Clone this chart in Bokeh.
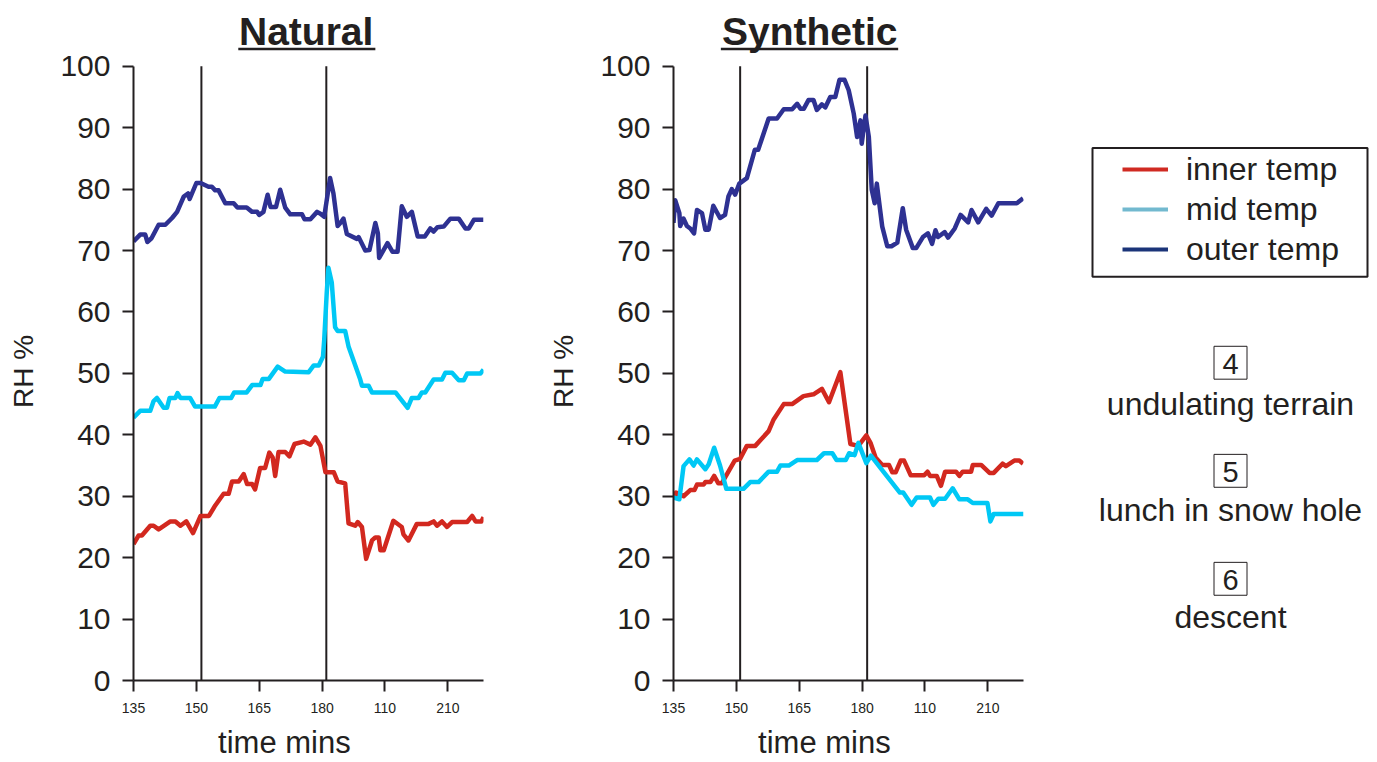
from math import pi
from bokeh.plotting import figure
from bokeh.models import Range1d, FixedTicker, Label, Legend, LegendItem, LinearAxis
from bokeh.layouts import row
from bokeh.embed import file_html
from bokeh.resources import INLINE
from bokeh.core.properties import value

# ---------------- data (time in minutes, RH %) ----------------
x_ticks = [135, 150, 165, 180, 195, 210]
x_tick_labels = ["135", "150", "165", "180", "110", "210"]
y_ticks = [0, 10, 20, 30, 40, 50, 60, 70, 80, 90, 100]
x_title = "time mins"
y_title = "RH %"

nat_events = [151.2, 181.0]
syn_events = [150.9, 181.2]

nat_outer_t = [135.0, 136.6, 137.8, 138.3, 139.3, 141.0, 142.6, 144.2, 145.4, 147.0,
               148.0, 148.4, 150.0, 151.0, 152.9, 153.7, 154.5, 155.3, 156.9, 158.9,
               159.8, 162.0, 163.3, 164.5, 165.0, 166.0, 167.0, 167.7, 169.0, 170.0,
               171.2, 172.4, 175.2, 175.8, 177.2, 178.8, 179.6, 180.5, 181.9, 182.7,
               183.7, 184.5, 185.1, 185.9, 188.3, 188.7, 190.3, 191.3, 192.7, 193.3,
               193.6, 195.6, 196.8, 198.0, 199.0, 200.2, 201.4, 202.8, 204.5, 205.8,
               206.6, 207.5, 209.0, 210.6, 212.6, 214.2, 215.0, 216.2, 218.5]
nat_outer_rh = [71.5, 72.6, 72.6, 71.4, 72.0, 74.2, 74.2, 75.3, 76.3, 78.8,
                79.3, 78.4, 81.0, 81.0, 80.4, 80.4, 79.8, 79.8, 77.7, 77.7,
                77.0, 77.0, 76.3, 76.3, 75.8, 76.3, 79.1, 77.1, 77.1, 79.9,
                77.0, 75.9, 75.9, 75.1, 75.1, 76.3, 76.0, 75.5, 81.8, 79.3,
                74.0, 74.6, 75.2, 72.7, 71.9, 72.2, 70.0, 70.1, 74.5, 72.8,
                68.8, 71.2, 69.8, 69.8, 77.2, 75.5, 76.3, 72.3, 72.3, 73.6,
                73.1, 73.8, 73.9, 75.2, 75.2, 73.6, 73.6, 75.0, 75.0]

nat_mid_t = [135.0, 136.6, 139.0, 139.8, 140.6, 142.2, 143.0, 143.6, 145.0, 145.5,
             146.2, 148.5, 149.7, 154.4, 155.5, 158.3, 159.0, 162.0, 163.3, 165.3,
             165.8, 167.3, 169.4, 171.2, 176.8, 178.0, 179.2, 180.2, 180.5, 181.1,
             181.5, 182.3, 183.1, 183.7, 185.5, 186.3, 189.1, 189.5, 191.1, 191.9,
             197.5, 200.4, 201.4, 203.0, 203.8, 204.6, 206.6, 208.6, 209.4, 211.0,
             212.6, 213.8, 214.6, 217.8, 218.5]
nat_mid_rh = [42.8, 43.9, 43.9, 45.5, 46.0, 44.4, 44.4, 46.0, 46.0, 46.8,
              46.0, 46.0, 44.6, 44.6, 46.0, 46.0, 46.9, 46.9, 48.1, 48.1,
              49.1, 49.1, 51.1, 50.3, 50.2, 51.3, 51.3, 52.7, 55.5, 63.1,
              67.2, 64.8, 57.5, 56.9, 56.9, 54.4, 49.0, 48.0, 48.0, 46.9,
              46.9, 44.4, 46.0, 46.0, 46.9, 46.9, 49.0, 49.0, 50.1, 50.1,
              48.9, 48.9, 50.0, 50.0, 50.6]

nat_inner_t = [135.0, 136.2, 137.0, 139.0, 139.8, 141.0, 143.8, 145.0, 146.2, 147.6,
               149.2, 151.0, 153.0, 154.5, 156.5, 157.7, 158.5, 160.1, 161.3, 162.1,
               163.3, 164.0, 165.2, 166.4, 167.4, 168.2, 168.8, 169.6, 171.2, 172.2,
               173.4, 175.6, 177.2, 178.4, 179.6, 180.8, 182.8, 183.7, 185.5, 186.3,
               187.9, 188.5, 189.5, 190.5, 191.9, 192.7, 193.5, 193.9, 194.7, 197.0,
               199.0, 199.4, 200.6, 202.6, 205.4, 206.6, 207.4, 208.6, 209.8, 211.0,
               214.6, 215.8, 216.6, 218.0, 218.5]
nat_inner_rh = [22.2, 23.6, 23.6, 25.2, 25.2, 24.6, 25.9, 25.9, 25.2, 25.9,
                24.0, 26.8, 26.8, 28.5, 30.4, 30.4, 32.4, 32.4, 33.6, 32.0,
                32.0, 31.1, 34.6, 34.6, 37.1, 36.3, 33.3, 37.2, 37.2, 36.5,
                38.5, 38.9, 38.4, 39.6, 38.2, 33.9, 33.9, 32.4, 32.1, 25.6,
                25.2, 25.8, 25.0, 19.8, 22.8, 23.3, 23.3, 21.2, 21.2, 26.0,
                25.0, 23.8, 22.8, 25.5, 25.5, 25.9, 25.2, 25.9, 25.0, 25.8,
                25.8, 26.8, 25.9, 25.9, 26.6]

syn_outer_t = [135.0, 135.4, 136.4, 136.6, 137.4, 138.2, 139.0, 139.9, 140.6, 141.8,
               142.6, 143.4, 144.5, 146.1, 147.3, 148.1, 148.9, 149.7, 150.7, 152.5,
               154.4, 155.2, 157.7, 159.7, 161.3, 163.3, 164.5, 165.3, 166.1, 167.2,
               168.4, 169.2, 170.4, 171.2, 172.4, 173.6, 174.6, 175.8, 176.8, 178.0,
               178.8, 179.6, 179.9, 180.8, 181.6, 182.3, 183.0, 183.5, 184.8, 186.0,
               187.0, 188.4, 189.7, 190.5, 192.1, 192.9, 194.5, 195.7, 196.7, 197.5,
               198.1, 199.7, 200.5, 202.1, 203.5, 205.3, 206.1, 207.7, 209.6, 210.9,
               212.5, 216.9, 218.4]
syn_outer_rh = [74.5, 78.2, 76.1, 74.0, 75.2, 74.0, 73.6, 72.8, 76.6, 76.1,
                73.4, 73.4, 77.3, 75.3, 75.8, 78.8, 80.0, 79.1, 80.9, 81.8,
                86.4, 86.4, 91.5, 91.5, 93.0, 93.0, 93.9, 93.1, 93.1, 94.5,
                94.5, 92.9, 93.8, 93.3, 95.0, 95.0, 97.8, 97.8, 96.1, 92.3,
                88.5, 91.2, 87.4, 92.0, 88.5, 79.9, 77.7, 80.9, 73.9, 70.7,
                70.7, 71.3, 76.9, 73.4, 70.4, 70.4, 72.2, 72.8, 71.1, 73.3,
                72.2, 73.0, 72.1, 73.6, 75.8, 74.6, 76.6, 74.6, 76.8, 75.7,
                77.7, 77.7, 78.5]

syn_mid_t = [135.0, 136.4, 137.4, 138.8, 139.8, 140.6, 142.6, 143.4, 144.7, 146.1,
             147.6, 151.7, 153.3, 155.3, 157.7, 159.7, 160.5, 162.5, 164.5, 169.2,
             170.9, 172.9, 173.9, 176.1, 176.9, 178.2, 179.1, 181.0, 182.1, 184.6,
             189.0, 189.8, 191.8, 193.0, 196.2, 197.0, 198.2, 199.8, 201.6, 203.2,
             205.2, 206.4, 209.9, 210.6, 211.4, 218.5]
syn_mid_rh = [29.8, 29.5, 34.9, 36.0, 35.0, 36.0, 34.4, 35.2, 37.9, 35.0,
              31.2, 31.2, 32.3, 32.3, 34.0, 34.0, 35.0, 35.0, 35.9, 35.9,
              37.0, 37.0, 35.9, 35.9, 37.0, 36.7, 38.7, 35.4, 36.6, 34.4,
              30.6, 30.6, 28.6, 29.8, 29.8, 28.6, 29.6, 29.6, 31.3, 29.5,
              29.5, 28.9, 28.9, 25.9, 27.1, 27.1]

syn_inner_t = [135.0, 135.6, 137.4, 139.0, 140.0, 140.6, 142.2, 142.6, 143.8, 144.7,
               145.7, 146.5, 149.6, 150.9, 152.5, 154.5, 157.7, 158.9, 161.3, 163.3,
               166.0, 168.4, 170.4, 172.1, 174.8, 177.2, 179.1, 181.0, 182.0, 183.2,
               184.8, 186.4, 187.2, 188.0, 189.2, 190.0, 191.6, 194.8, 195.6, 196.2,
               197.8, 198.8, 199.8, 202.4, 203.2, 204.0, 206.0, 206.4, 208.4, 210.4,
               211.4, 213.5, 214.3, 216.3, 217.5, 218.4]
syn_inner_rh = [29.5, 30.6, 30.0, 31.0, 31.0, 31.9, 31.9, 32.3, 32.3, 33.3,
                32.1, 32.1, 35.8, 36.1, 38.2, 38.2, 40.6, 42.5, 45.0, 45.0,
                46.3, 46.6, 47.5, 45.3, 50.2, 38.5, 38.2, 39.9, 38.7, 36.3,
                35.1, 35.1, 33.9, 33.9, 35.8, 35.8, 33.4, 33.4, 34.0, 33.3,
                33.3, 31.7, 34.0, 34.0, 33.3, 34.0, 34.0, 35.1, 35.1, 33.8,
                33.8, 35.3, 34.9, 35.8, 35.8, 35.3]

series_names = ["inner temp", "mid temp", "outer temp"]
line_colors = ["#d2281f", "#00c8f5", "#2e3192"]
legend_colors = ["#d02a22", "#72b9cf", "#1b3479"]

stages = ["4", "5", "6"]
stage_names = ["undulating terrain", "lunch in snow hole", "descent"]

FONT = "Liberation Sans"
INK = "#231f20"
H = 762
FRAME_H = 682
Y_TOP = FRAME_H / 6.16


def bare_figure(width):
    """A figure without axes whose data coordinates are canvas pixels (y measured up)."""
    f = figure(width=width, height=H, x_range=Range1d(0, width), y_range=Range1d(0, FRAME_H),
               output_backend="svg", toolbar_location=None, min_border_left=0,
               min_border_right=0, min_border_top=0, min_border_bottom=H - FRAME_H,
               x_axis_location=None, y_axis_location=None)
    f.outline_line_color = None
    f.xgrid.visible = False
    f.ygrid.visible = False
    return f


def y_title_fig(width, x):
    f = bare_figure(width)
    f.text(x=[x], y=[FRAME_H - 372], text=[y_title], angle=pi / 2, text_font=value(FONT),
           text_font_size="28px", text_align="center", text_baseline="middle", text_color=INK)
    return f


def make_panel(width, left, right, title, title_x, ul_x0, ul_x1, events, series):
    p = figure(width=width, height=H, x_range=Range1d(135, 218.5), y_range=Range1d(0, Y_TOP),
               output_backend="svg", toolbar_location=None,
               min_border_left=left, min_border_right=right, min_border_top=0,
               min_border_bottom=H - FRAME_H)
    p.outline_line_color = None
    p.grid.visible = False
    p.background_fill_color = "white"
    p.border_fill_color = "white"

    for ax in (p.xaxis[0], p.yaxis[0]):
        ax.axis_line_width = 2
        ax.axis_line_color = INK
        ax.major_tick_line_width = 2
        ax.major_tick_line_color = INK
        ax.major_tick_out = 11
        ax.major_tick_in = 0
        ax.minor_tick_out = 0
        ax.minor_tick_in = 0
        ax.major_label_text_font = FONT
        ax.major_label_text_color = INK

    p.yaxis.ticker = FixedTicker(ticks=y_ticks)
    p.yaxis.bounds = (0, 100)
    p.yaxis.major_label_text_font_size = "30px"
    p.yaxis.major_label_standoff = 12

    p.xaxis.ticker = FixedTicker(ticks=x_ticks)
    p.xaxis.major_label_overrides = {t: s for t, s in zip(x_ticks, x_tick_labels)}
    p.xaxis.major_label_text_font_size = "14px"
    p.xaxis.major_label_standoff = 11

    # x-axis title, carried as the single label of a line-less second axis
    p.add_layout(LinearAxis(ticker=FixedTicker(ticks=[171]), major_label_overrides={171: x_title},
                            axis_line_color=None, major_tick_out=0, major_tick_in=0,
                            minor_tick_out=0, minor_tick_in=0, major_tick_line_color=None,
                            minor_tick_line_color=None, major_label_standoff=9,
                            major_label_text_font=FONT, major_label_text_font_size="31px",
                            major_label_text_color=INK), "below")

    # event lines
    p.segment(x0=events, y0=[0] * len(events), x1=events, y1=[100] * len(events),
              line_color=INK, line_width=2)

    for (tt, rr), col in zip(series, line_colors):
        p.line(tt, rr, line_color=col, line_width=4.5, line_join="round")

    # title with underline
    p.add_layout(Label(x=title_x, y=105.6, text=title, text_font=FONT, text_font_size="39px",
                       text_font_style="bold", text_align="center", text_baseline="middle",
                       text_color=INK))
    p.segment(x0=[ul_x0], y0=[102.8], x1=[ul_x1], y1=[102.8], line_color=INK, line_width=2.5)
    return p


lab1 = y_title_fig(40, 23.3)
p1 = make_panel(504, 93, 61, "Natural", 176.2, 160.0, 192.7, nat_events,
                [(nat_inner_t, nat_inner_rh), (nat_mid_t, nat_mid_rh), (nat_outer_t, nat_outer_rh)])
lab2 = y_title_fig(40, 19.3)
p2 = make_panel(504, 89, 65, "Synthetic", 167.5, 146.3, 188.6, syn_events,
                [(syn_inner_t, syn_inner_rh), (syn_mid_t, syn_mid_rh), (syn_outer_t, syn_outer_rh)])

# side panel: legend and stage notes (data coordinates = canvas pixels, y down)
W3 = 285
p3 = figure(width=W3, height=H, x_range=Range1d(0, W3), y_range=Range1d(FRAME_H, 0),
            output_backend="svg", toolbar_location=None, min_border_left=0, min_border_right=0,
            min_border_top=0, min_border_bottom=H - FRAME_H,
            x_axis_location=None, y_axis_location=None)
p3.outline_line_color = None
p3.xgrid.visible = False
p3.ygrid.visible = False

items = []
for name, col in zip(series_names, legend_colors):
    r = p3.line(x=[-20, -10], y=[-20, -20], line_color=col, line_width=4)
    items.append(LegendItem(label=name, renderers=[r]))
legend = Legend(items=items, location=(30, FRAME_H - 275), padding=4, margin=0, spacing=0,
                glyph_width=46, glyph_height=40, label_height=40, label_standoff=18,
                label_text_font=FONT, label_text_font_size="32px", label_text_color=INK,
                label_text_baseline="middle",
                border_line_alpha=0, background_fill_alpha=0)
p3.add_layout(legend)
p3.quad(left=[4], right=[279], top=[148], bottom=[277], fill_alpha=0,
        line_color=INK, line_width=2)

box_y = [363.3, 471.7, 580.0]
digit_y = [365.0, 473.3, 581.0]
caption_y = [405.0, 511.0, 618.5]
p3.rect(x=[142] * 3, y=box_y, width=33, height=33, fill_alpha=0, line_color=INK, line_width=1)
p3.text(x=[142] * 3, y=digit_y, text=stages, text_font=value(FONT), text_font_size="29px",
        text_align="center", text_baseline="middle", text_color=INK)
p3.text(x=[142] * 3, y=caption_y, text=stage_names, text_font=value(FONT),
        text_font_size="32px", text_align="center", text_baseline="middle", text_color=INK)

layout = row(lab1, p1, lab2, p2, p3)
open("out.html", "w").write(file_html(layout, INLINE))
